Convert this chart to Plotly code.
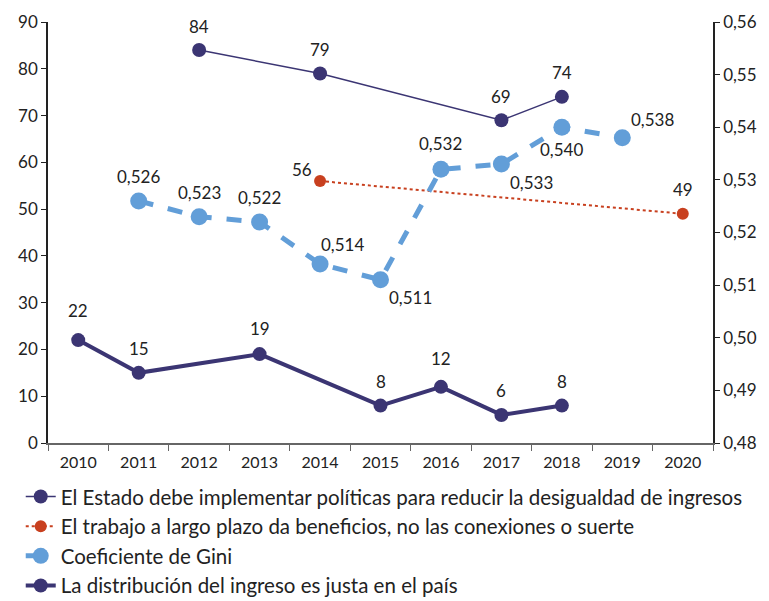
import plotly.graph_objects as go

years = [str(y) for y in range(2010, 2021)]

estado_years = ["2012", "2014", "2017", "2018"]
estado_vals = [84, 79, 69, 74]

trabajo_years = ["2014", "2020"]
trabajo_vals = [56, 49]

gini_years = ["2011", "2012", "2013", "2014", "2015", "2016", "2017", "2018", "2019"]
gini_vals = [0.526, 0.523, 0.522, 0.514, 0.511, 0.532, 0.533, 0.540, 0.538]

justa_years = ["2010", "2011", "2013", "2015", "2016", "2017", "2018"]
justa_vals = [22, 15, 19, 8, 12, 6, 8]

NAVY = "#3b3573"
BLUE = "#629ed8"
RED = "#c8401f"
FONT = "Lato"

fig = go.Figure()
fig.add_trace(go.Scatter(
    x=estado_years, y=estado_vals, mode="lines+markers",
    name="El Estado debe implementar políticas para reducir la desigualdad de ingresos",
    line=dict(color=NAVY, width=1.5),
    marker=dict(color=NAVY, size=14),
))
fig.add_trace(go.Scatter(
    x=trabajo_years, y=trabajo_vals, mode="lines+markers",
    name="El trabajo a largo plazo da beneficios, no las conexiones o suerte",
    line=dict(color=RED, width=2, dash="dot"),
    marker=dict(color=RED, size=12),
))
fig.add_trace(go.Scatter(
    x=gini_years, y=gini_vals, mode="lines+markers", yaxis="y2",
    name="Coeficiente de Gini",
    line=dict(color=BLUE, width=5, dash="dash"),
    marker=dict(color=BLUE, size=17),
))
fig.add_trace(go.Scatter(
    x=justa_years, y=justa_vals, mode="lines+markers",
    name="La distribución del ingreso es justa en el país",
    line=dict(color=NAVY, width=4),
    marker=dict(color=NAVY, size=14),
))

annotations = []
# label offsets (xshift, yshift) per point
estado_off = [(0, 24), (0, 24), (0, 24), (0, 24)]
trabajo_off = [(-18, 12), (0, 24)]
gini_off = [(0, 24), (0, 24), (0, 24), (22, 20), (30, -18), (0, 26), (30, -18), (0, -22), (30, 18)]
justa_off = [(0, 30), (0, 24), (0, 26), (0, 24), (0, 28), (0, 24), (0, 24)]

for xs, ys, offs, fmt, yref in [
    (estado_years, estado_vals, estado_off, "{:d}", "y"),
    (trabajo_years, trabajo_vals, trabajo_off, "{:d}", "y"),
    (gini_years, gini_vals, gini_off, "{:.3f}", "y2"),
    (justa_years, justa_vals, justa_off, "{:d}", "y"),
]:
    for x, y, (dx, dy) in zip(xs, ys, offs):
        annotations.append(dict(
            x=years.index(x), y=y, xref="x", yref=yref,
            text=fmt.format(y).replace(".", ","),
            showarrow=False, xshift=dx, yshift=dy,
            font=dict(family=FONT, size=17, color="#222222"),
        ))

# page body adds an 8px margin, so the figure is sized to fit the window
fig.update_layout(
    width=761, height=593,
    paper_bgcolor="white", plot_bgcolor="white",
    separators=",.",
    margin=dict(l=40, r=56, t=14, b=158, autoexpand=False),
    font=dict(family=FONT, size=17, color="#222222"),
    showlegend=True,
    legend=dict(
        x=-0.041, y=-0.08, xanchor="left", yanchor="top",
        font=dict(family=FONT, size=20.5, color="#222222"),
        tracegroupgap=0, itemwidth=30,
    ),
    xaxis=dict(
        type="category", categoryorder="array", categoryarray=years,
        range=[-0.5, 10.5], showgrid=False,
        showline=True, linecolor="#666666", linewidth=1.5,
        ticks="outside", tickson="boundaries", ticklen=6, tickcolor="#666666",
        ticklabelstandoff=4,
        tickfont=dict(family=FONT, size=16),
    ),
    yaxis=dict(
        range=[0, 90], dtick=10, showgrid=False, zeroline=False,
        showline=True, linecolor="#222222", linewidth=1.5,
        ticks="outside", ticklen=5, tickcolor="#222222",
        tickfont=dict(family=FONT, size=17),
    ),
    yaxis2=dict(
        range=[0.48, 0.56], dtick=0.01, tickformat=".2f",
        overlaying="y", side="right", showgrid=False, zeroline=False,
        showline=True, linecolor="#222222", linewidth=1.5,
        ticks="outside", ticklen=5, tickcolor="#222222",
        tickfont=dict(family=FONT, size=17),
    ),
    annotations=annotations,
)

fig.write_html("out.html")
